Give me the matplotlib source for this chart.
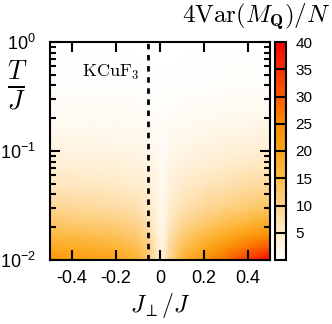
import numpy as np
import matplotlib
matplotlib.use("Agg")
import matplotlib.pyplot as plt
from matplotlib.colors import LinearSegmentedColormap, Normalize
from matplotlib.cm import ScalarMappable
from matplotlib.ticker import LogLocator, NullFormatter

# ==== DATA ====
J_PERP = [-0.5, -0.4, -0.3, -0.2, -0.1, -0.05, -0.02, 0.01, 0.04, 0.1, 0.2, 0.3, 0.4, 0.5]
TEMPS = [0.01, 0.013, 0.017, 0.022, 0.03, 0.045, 0.07, 0.1, 0.2, 0.4, 1.0]
VAR_MQ = [
    [23, 22, 21, 20, 17, 12, 7, 3, 9, 17, 23, 28, 34, 40],
    [19, 18.5, 18, 17, 14.5, 10.5, 6, 2.5, 8, 14, 19.5, 23.5, 27.5, 31],
    [15.5, 15, 14.5, 13.5, 11.5, 8.5, 5, 2, 6.5, 11.5, 15.5, 18.5, 21.5, 24],
    [12.5, 12, 11.5, 11, 9.5, 7, 4, 1.8, 5, 9, 12, 14.5, 16.5, 18.5],
    [9.5, 9, 8.5, 8, 7, 5.5, 3.2, 1.5, 4.2, 7, 9, 10.5, 12, 13.5],
    [6.5, 6.2, 6, 5.5, 5, 4, 2.8, 1.2, 3.2, 5, 6.5, 7.5, 8.5, 9.5],
    [4.3, 4.1, 3.9, 3.7, 3.3, 2.8, 2.2, 1, 2.4, 3.3, 4.3, 5, 5.7, 6.3],
    [2.9, 2.8, 2.7, 2.6, 2.3, 2, 1.6, 0.9, 1.8, 2.3, 3, 3.5, 3.9, 4.3],
    [1.2, 1.2, 1.1, 1.1, 1.0, 0.9, 0.8, 0.6, 0.8, 1.0, 1.3, 1.5, 1.7, 1.8],
    [0.4, 0.4, 0.4, 0.4, 0.35, 0.3, 0.3, 0.25, 0.3, 0.35, 0.45, 0.5, 0.55, 0.6],
    [0, 0, 0, 0, 0, 0, 0, 0, 0, 0, 0, 0, 0, 0],
]
KCUF3_J = -0.053
CBAR_TICKS = [5, 10, 15, 20, 25, 30, 35, 40]
X_TICKS = [-0.4, -0.2, 0, 0.2, 0.4]
X_LABELS = ["-0.4", "-0.2", "0", "0.2", "0.4"]

# ==== STYLE ====
plt.rcParams["font.family"] = ["Liberation Sans", "DejaVu Sans"]
plt.rcParams["mathtext.fontset"] = "cm"

cmap = LinearSegmentedColormap.from_list("wor", [
    (0.0, "#ffffff"),
    (5 / 40, "#ffebc8"),
    (10 / 40, "#fed28a"),
    (15 / 40, "#fdbc48"),
    (20 / 40, "#fca618"),
    (25 / 40, "#fb8a00"),
    (30 / 40, "#fa5c00"),
    (35 / 40, "#f93000"),
    (1.0, "#f80000"),
])
norm = Normalize(0, 40)

fig = plt.figure(figsize=(3.32, 3.24), dpi=100)
ax = fig.add_axes([50 / 332, 1 - 260 / 324, 220 / 332, 218 / 324])
cax = fig.add_axes([275 / 332, 1 - 260 / 324, 11 / 332, 218 / 324])

# --- heatmap ---
ax.pcolormesh(J_PERP, TEMPS, np.array(VAR_MQ), cmap=cmap, norm=norm, shading="gouraud")
ax.axvline(KCUF3_J, color="black", lw=2, ls=(0, (2, 2)))
ax.text(KCUF3_J - 0.04, 0.53, r"$\mathrm{KCuF_3}$", ha="right", va="center", fontsize=13)

ax.set_xlim(-0.5, 0.5)
ax.set_yscale("log")
ax.set_ylim(0.01, 1.0)
ax.set_xticks(X_TICKS)
ax.set_xticklabels(X_LABELS)
ax.yaxis.set_major_locator(LogLocator(base=10))
ax.yaxis.set_minor_locator(LogLocator(base=10, subs=np.arange(2, 10)))
ax.yaxis.set_minor_formatter(NullFormatter())
ax.tick_params(which="both", direction="in", top=True, right=True, width=1.5)
ax.tick_params(which="major", length=7)
ax.tick_params(which="minor", length=4)
ax.tick_params(axis="x", pad=7, labelsize=13)
ax.tick_params(axis="y", pad=10, labelsize=13)
for s in ax.spines.values():
    s.set_linewidth(1.5)

ax.set_xlabel(r"$J_{\perp}/J$", fontsize=17, labelpad=3)
fig.text(17 / 332, 1 - 86 / 324, r"$\frac{T}{J}$", fontsize=27, ha="center", va="center")

# --- colorbar ---
cb = fig.colorbar(ScalarMappable(norm=norm, cmap=cmap), cax=cax)
cb.set_ticks(CBAR_TICKS)
cb.ax.tick_params(length=0, labelsize=11, pad=7)
cb.outline.set_linewidth(1.5)
for v in CBAR_TICKS[:-1]:
    cax.axhline(v, color="black", lw=1.5)
fig.text(330 / 332, 1 - 16 / 324, r"$4\mathrm{Var}(M_{\mathbf{Q}})/N$", fontsize=18, ha="right", va="center")

fig.savefig("out.png", dpi=100)
